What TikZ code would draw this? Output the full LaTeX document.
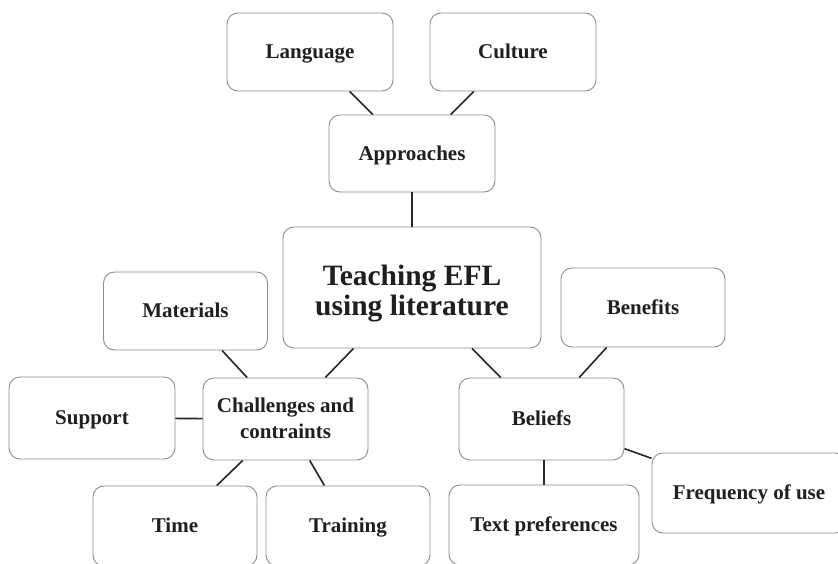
\documentclass[tikz,border=0pt]{standalone}
\usepackage{fontspec}
\setmainfont{Liberation Serif}
\begin{document}
\begin{tikzpicture}[x=1pt,y=1pt,
  box/.style={draw=black!45, line width=0.9pt, rounded corners=11pt, fill=white,
    text=black!88, font=\fontsize{21}{26}\selectfont\bfseries, align=center, inner sep=0pt,
    text height=13pt, text depth=0pt},
  twoline/.style={text height=39pt, text depth=1pt},
  bigtext/.style={font=\fontsize{29.5}{30}\selectfont\bfseries, text height=55pt, text depth=0pt},
  link/.style={draw=black!85, line width=1.6pt}]
\useasboundingbox (0,0) rectangle (838,-563);
% nodes
\node[box, minimum width=166, minimum height=78] (lang) at (310,-52) {Language};
\node[box, minimum width=166, minimum height=78] (cult) at (513,-52) {Culture};
\node[box, minimum width=166, minimum height=77] (appr) at (412,-153.5) {Approaches};
\node[box, bigtext, minimum width=258, minimum height=121] (teach) at (412,-287.5) {Teaching EFL\\using literature};
\node[box, minimum width=164, minimum height=78] (mat) at (185.5,-311) {Materials};
\node[box, minimum width=164, minimum height=79] (ben) at (643,-307.5) {Benefits};
\node[box, minimum width=166, minimum height=82] (supp) at (92,-418) {Support};
\node[box, twoline, minimum width=165, minimum height=82] (chal) at (285.5,-419) {Challenges and\\contraints};
\node[box, minimum width=165, minimum height=82] (bel) at (541.5,-419) {Beliefs};
\node[box, minimum width=194, minimum height=80] (freq) at (749,-493) {Frequency of use};
\node[box, minimum width=164, minimum height=80] (time) at (175,-526) {Time};
\node[box, minimum width=164, minimum height=80] (train) at (348,-526) {Training};
\node[box, minimum width=190, minimum height=80] (textp) at (544,-525) {Text preferences};
% connectors
\draw[link] (lang) -- (appr);
\draw[link] (cult) -- (appr);
\draw[link] (appr) -- (teach);
\draw[link] (teach) -- (chal);
\draw[link] (teach) -- (bel);
\draw[link] (mat) -- (chal);
\draw[link] (ben) -- (bel);
\draw[link] (supp) -- (chal);
\draw[link] (chal) -- (time);
\draw[link] (chal) -- (train);
\draw[link] (bel.south -| textp.north) -- (textp.north);
\draw[link] (bel) -- (freq);
\end{tikzpicture}
\end{document}
